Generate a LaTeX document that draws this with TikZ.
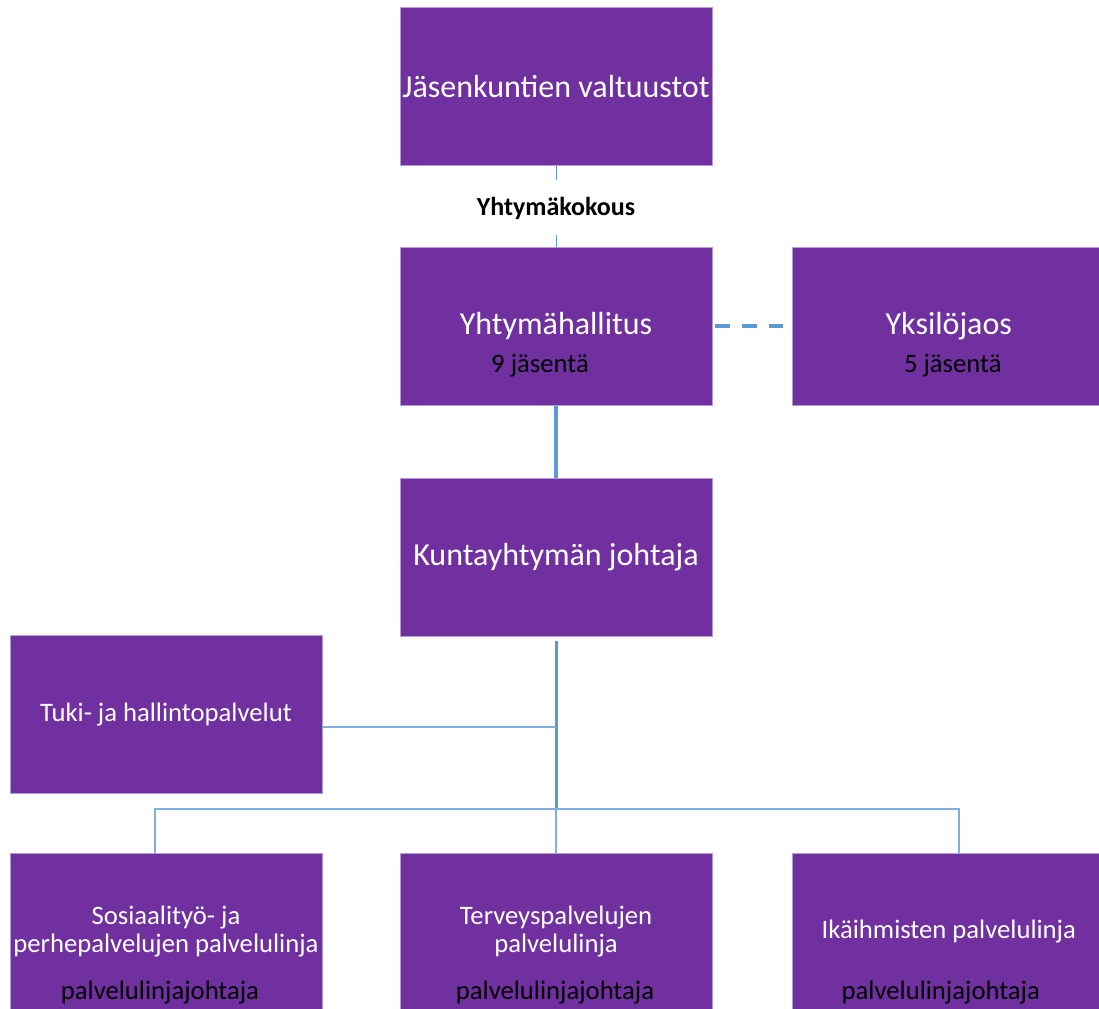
\documentclass[tikz,border=0pt]{standalone}
\usepackage{fontspec}
\setmainfont{Carlito}
\usetikzlibrary{positioning, calc}
\definecolor{orgpurple}{RGB}{112,48,160}
\definecolor{edgelilac}{RGB}{180,155,210}
\definecolor{linkblue}{RGB}{91,155,213}
\definecolor{thinblue}{RGB}{125,176,224}

\begin{document}
\begin{tikzpicture}[
        x=0.75pt, y=-0.75pt,
        unit/.style={rectangle, draw=edgelilac, line width=0.6pt, fill=orgpurple, minimum width=234pt, minimum height=118.5pt, inner sep=0pt, text=white, align=center, font=\fontsize{#1}{21}\selectfont},
        unit/.default=24,
        members/.style={text=black, inner sep=0pt, anchor=base, font=\fontsize{20}{24}\selectfont},
        feed/.style={linkblue, line width=0.75pt},
        link/.style={linkblue, line width=3pt},
        trunk/.style={linkblue, line width=2.25pt},
        branch/.style={thinblue, line width=1.5pt}
    ]
        \useasboundingbox (0,0) rectangle (1099,1008);

        % Main column
        \node[unit] (valt) at (556,86.5) {Jäsenkuntien valtuustot};
        \node[unit, below=60.75pt of valt] (yh) {Yhtymähallitus};
        \node[unit, right=60pt of yh] (yks) {Yksilöjaos};
        \node[unit, below=54pt of yh] (joht) {Kuntayhtymän johtaja};

        % Members
        \node[members] (yhjas) at ($(yh.center)+(-16,46.5)$) {9 jäsentä};
        \node[members] (yksjas) at ($(yks.center)+(4,46.5)$) {5 jäsentä};

        % Meeting label
        \node[inner xsep=0pt, inner ysep=12pt, anchor=base, font=\fontsize{19.5}{24}\selectfont\bfseries] (kokous) at (556,215) {Yhtymäkokous};

        % Service lines
        \node[unit=20] (tuki) at (166,714.5) {Tuki- ja hallintopalvelut};
        \node[unit=20] (sos) at (166,932) {Sosiaalityö- ja\\perhepalvelujen palvelulinja};
        \node[unit=20] (terv) at (joht |- sos) {Terveyspalvelujen\\palvelulinja};
        \node[unit=20] (ika) at (yks |- sos) {Ikäihmisten palvelulinja};
        \node[members] (sosjoh) at ($(sos.center)+(-6,67)$) {palvelulinjajohtaja};
        \node[members] (tervjoh) at ($(terv.center)+(-1,67)$) {palvelulinjajohtaja};
        \node[members] (ikajoh) at ($(ika.center)+(-8,67)$) {palvelulinjajohtaja};

        % Connectors
        \coordinate (hub) at (556,727);
        \coordinate (bus) at (556,809);
        \coordinate (busL) at (154.5,809);
        \coordinate (busR) at (959,809);
        \draw[feed] (valt.south) -- (kokous.north);
        \draw[feed] (kokous.south) -- (yh.north);
        \draw[link, dash pattern=on 11.25pt off 9pt, shorten <=2.25pt, shorten >=6.75pt] (yh.east) -- (yks.west);
        \draw[link] (yh.south) -- (joht.north);
        \draw[trunk, shorten <=3pt] (joht.south) -- (bus);
        \draw[branch] (tuki.east |- hub) -- (hub);
        \draw[branch] (busL |- sos.north) -- (busL) -- (busR) -- (busR |- ika.north);
        \draw[branch] (bus) -- (terv.north);
    \end{tikzpicture}
\end{document}
